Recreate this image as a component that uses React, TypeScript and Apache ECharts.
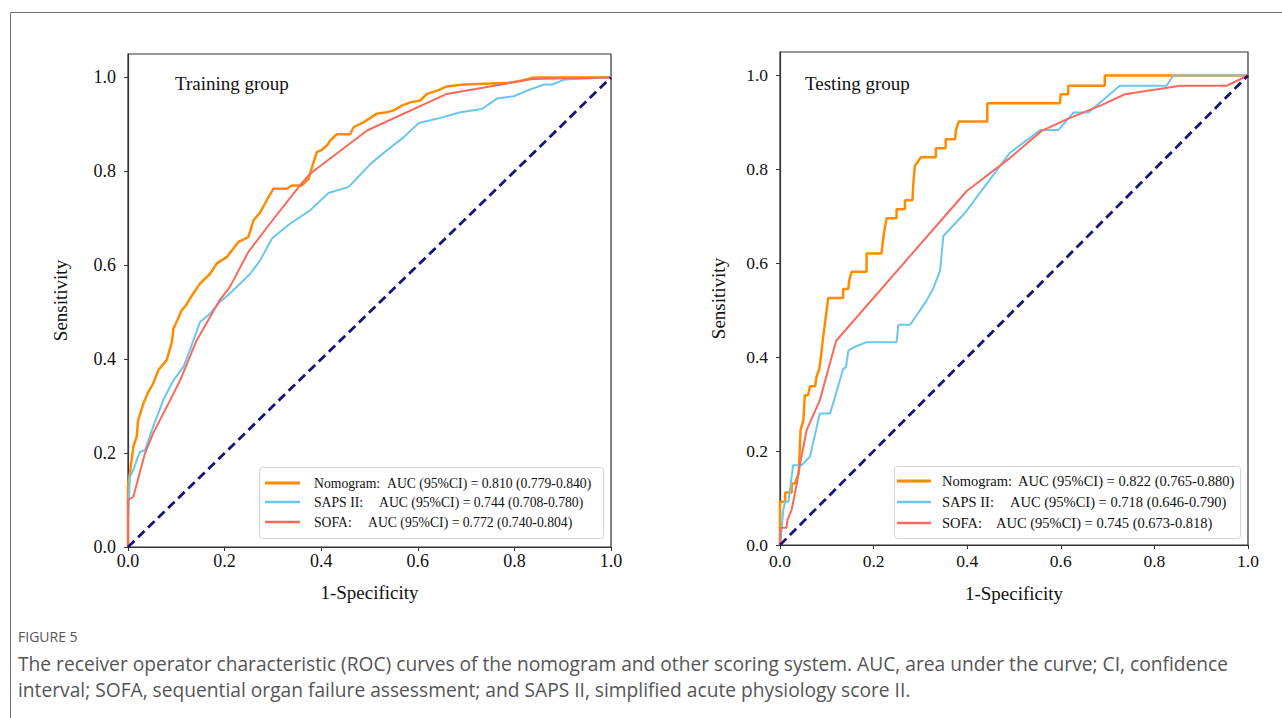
import React, { useEffect, useRef } from 'react';
import * as echarts from 'echarts';

// ---------- data ----------
const tickValues = [0, 0.2, 0.4, 0.6, 0.8, 1.0];
const seriesNames = ['Nomogram', 'SAPS II', 'SOFA'];
const legendPrefix = ['Nomogram:', 'SAPS II:', 'SOFA:'];
const trainAucText = [
  'AUC (95%CI) = 0.810 (0.779-0.840)',
  'AUC (95%CI) = 0.744 (0.708-0.780)',
  'AUC (95%CI) = 0.772 (0.740-0.804)',
];
const testAucText = [
  'AUC (95%CI) = 0.822 (0.765-0.880)',
  'AUC (95%CI) = 0.718 (0.646-0.790)',
  'AUC (95%CI) = 0.745 (0.673-0.818)',
];
const panelTitles = ['Training group', 'Testing group'];
const xAxisName = '1-Specificity';
const yAxisName = 'Sensitivity';
const figureLabel = 'FIGURE 5';
const captionLines = [
  'The receiver operator characteristic (ROC) curves of the nomogram and other scoring system. AUC, area under the curve; CI, confidence',
  'interval; SOFA, sequential organ failure assessment; and SAPS II, simplified acute physiology score II.',
];

const diagonal = [[0, 0], [1, 1]];

const trainNomogram = [
  [0, 0], [0, 0.13], [0.004, 0.157], [0.011, 0.213], [0.018, 0.235], [0.021, 0.27], [0.032, 0.306],
  [0.042, 0.33], [0.052, 0.348], [0.063, 0.377], [0.08, 0.398], [0.091, 0.437], [0.094, 0.465],
  [0.104, 0.487], [0.111, 0.504], [0.12, 0.515], [0.132, 0.535], [0.149, 0.561], [0.17, 0.582],
  [0.184, 0.604], [0.205, 0.618], [0.229, 0.65], [0.249, 0.66], [0.26, 0.696], [0.274, 0.713],
  [0.287, 0.738], [0.301, 0.763], [0.329, 0.763], [0.339, 0.77], [0.36, 0.77], [0.374, 0.784],
  [0.381, 0.809], [0.391, 0.841], [0.401, 0.846], [0.412, 0.855], [0.419, 0.866], [0.432, 0.879],
  [0.46, 0.879], [0.467, 0.894], [0.488, 0.905], [0.502, 0.914], [0.515, 0.923], [0.536, 0.926],
  [0.55, 0.93], [0.567, 0.94], [0.584, 0.947], [0.605, 0.951], [0.619, 0.965], [0.64, 0.972],
  [0.66, 0.981], [0.695, 0.985], [0.785, 0.988], [0.819, 0.994], [0.84, 1.0], [1, 1],
];
const trainSaps = [
  [0, 0], [0, 0.057], [0.004, 0.15], [0.011, 0.164], [0.018, 0.185], [0.025, 0.203], [0.035, 0.206],
  [0.052, 0.256], [0.073, 0.313], [0.094, 0.355], [0.115, 0.384], [0.128, 0.419], [0.149, 0.479],
  [0.17, 0.497], [0.19, 0.522], [0.211, 0.54], [0.253, 0.582], [0.274, 0.611], [0.298, 0.657],
  [0.336, 0.689], [0.377, 0.717], [0.415, 0.754], [0.457, 0.767], [0.502, 0.816], [0.536, 0.845],
  [0.571, 0.873], [0.602, 0.903], [0.647, 0.914], [0.688, 0.926], [0.733, 0.933], [0.764, 0.955],
  [0.799, 0.96], [0.826, 0.972], [0.861, 0.985], [0.878, 0.985], [0.902, 0.995], [0.923, 0.997], [1, 1],
];
const trainSofa = [
  [0, 0], [0, 0.1], [0.011, 0.107], [0.035, 0.199], [0.052, 0.242], [0.08, 0.298], [0.108, 0.355],
  [0.142, 0.44], [0.19, 0.526], [0.211, 0.554], [0.249, 0.628], [0.294, 0.689], [0.356, 0.77],
  [0.377, 0.795], [0.495, 0.887], [0.66, 0.965], [0.84, 0.997], [1, 1],
];

const testNomogram = [
  [0, 0], [0, 0.092], [0.011, 0.092], [0.011, 0.112], [0.025, 0.112], [0.025, 0.131], [0.032, 0.131],
  [0.04, 0.153], [0.044, 0.245], [0.05, 0.266], [0.053, 0.319], [0.06, 0.319], [0.064, 0.338],
  [0.075, 0.338], [0.078, 0.358], [0.084, 0.375], [0.089, 0.414], [0.093, 0.45], [0.096, 0.471],
  [0.103, 0.526], [0.135, 0.526], [0.135, 0.545], [0.146, 0.545], [0.148, 0.564], [0.153, 0.582],
  [0.185, 0.582], [0.185, 0.621], [0.217, 0.621], [0.219, 0.641], [0.224, 0.676], [0.228, 0.696],
  [0.249, 0.696], [0.249, 0.715], [0.267, 0.715], [0.267, 0.734], [0.283, 0.734], [0.285, 0.771],
  [0.288, 0.807], [0.301, 0.826], [0.333, 0.826], [0.333, 0.845], [0.354, 0.845], [0.354, 0.864],
  [0.374, 0.864], [0.376, 0.884], [0.382, 0.902], [0.443, 0.902], [0.443, 0.941], [0.598, 0.941],
  [0.6, 0.96], [0.616, 0.96], [0.616, 0.978], [0.694, 0.978], [0.694, 1], [1, 1],
];
const testSaps = [
  [0, 0], [0.004, 0.04], [0.007, 0.075], [0.011, 0.092], [0.018, 0.092], [0.021, 0.114], [0.028, 0.17],
  [0.046, 0.17], [0.064, 0.188], [0.085, 0.28], [0.107, 0.28], [0.135, 0.375], [0.141, 0.379],
  [0.146, 0.414], [0.157, 0.421], [0.185, 0.432], [0.249, 0.432], [0.253, 0.469], [0.278, 0.469],
  [0.313, 0.52], [0.328, 0.548], [0.342, 0.584], [0.349, 0.658], [0.395, 0.707], [0.491, 0.835],
  [0.556, 0.884], [0.595, 0.884], [0.627, 0.921], [0.659, 0.921], [0.726, 0.978], [0.826, 0.978],
  [0.84, 1], [1, 1],
];
const testSofa = [
  [0, 0], [0.001, 0.037], [0.014, 0.037], [0.016, 0.054], [0.025, 0.075], [0.036, 0.131], [0.043, 0.174],
  [0.057, 0.245], [0.085, 0.308], [0.12, 0.435], [0.399, 0.754], [0.491, 0.824], [0.559, 0.882],
  [0.616, 0.908], [0.687, 0.937], [0.737, 0.96], [0.855, 0.978], [0.954, 0.978], [1, 1],
];

// ---------- styling ----------
const colors = ['#FF8C00', '#6CC6EC', '#F86A5C'];
const widths = [2.5, 2, 2];
const navy = '#14147A';
const serif = "'Liberation Serif','Times New Roman',serif";
const sans = "'Open Sans','Noto Sans',sans-serif";

const panels = [
  { grid: { left: 128, top: 54, width: 483, height: 493 }, tickFont: 18, yNameGap: 58, xNameGap: 36, xLabelMargin: 5, yLabelMargin: 12,
    data: [trainNomogram, trainSaps, trainSofa], auc: trainAucText,
    title: { x: 175, y: 83 },
    legend: { x: 259, y: 467, w: 344, h: 71, lineX1: 265, lineX2: 300, textX: 314, aucX: [387, 379, 368], rows: [483, 502, 522], font: 13.7 } },
  { grid: { left: 780, top: 52, width: 468, height: 493 }, tickFont: 17.5, yNameGap: 52, xNameGap: 39, xLabelMargin: 7, yLabelMargin: 12,
    data: [testNomogram, testSaps, testSofa], auc: testAucText,
    title: { x: 805, y: 83 },
    legend: { x: 894, y: 466, w: 346, h: 72, lineX1: 897, lineX2: 931, textX: 942, aucX: [1018, 1010, 996], rows: [481, 502, 523], font: 14.5 } },
];

function buildOption() {
  const grids: any[] = [];
  const xAxes: any[] = [];
  const yAxes: any[] = [];
  const series: any[] = [];
  const graphics: any[] = [];

  panels.forEach((p, i) => {
    grids.push({ ...p.grid, show: true, borderColor: '#333', borderWidth: 1.2, backgroundColor: '#fff' });
    xAxes.push({
      type: 'value', gridIndex: i, min: 0, max: 1, interval: 0.2,
      name: xAxisName, nameLocation: 'middle', nameGap: p.xNameGap,
      nameTextStyle: { fontFamily: serif, fontSize: 19, color: '#111' },
      axisLine: { show: true, onZero: false, lineStyle: { color: '#333', width: 1.2 } },
      axisTick: { show: true, length: 4, lineStyle: { color: '#333' } },
      axisLabel: { fontFamily: serif, fontSize: p.tickFont, color: '#111', margin: p.xLabelMargin, formatter: (v: number) => v.toFixed(1) },
      splitLine: { show: false },
    });
    yAxes.push({
      type: 'value', gridIndex: i, min: 0, max: 1.05, interval: 0.2,
      name: yAxisName, nameLocation: 'middle', nameGap: p.yNameGap,
      nameTextStyle: { fontFamily: serif, fontSize: 19, color: '#111' },
      axisLine: { show: true, onZero: false, lineStyle: { color: '#333', width: 1.2 } },
      axisTick: { show: true, length: 4, customValues: tickValues, lineStyle: { color: '#333' } },
      axisLabel: { fontFamily: serif, fontSize: p.tickFont, color: '#111', margin: p.yLabelMargin, customValues: tickValues, formatter: (v: number) => v.toFixed(1) },
      splitLine: { show: false },
    });
    p.data.forEach((d, k) => {
      series.push({
        type: 'line', name: seriesNames[k], xAxisIndex: i, yAxisIndex: i, data: d,
        showSymbol: false, symbol: 'none', z: 2 + k,
        lineStyle: { color: colors[k], width: widths[k] },
      });
    });
    series.push({
      type: 'line', name: 'Reference', xAxisIndex: i, yAxisIndex: i, data: diagonal,
      showSymbol: false, symbol: 'none', z: 6,
      lineStyle: { color: navy, width: 2.8, type: [9, 5] },
    });

    // panel title
    graphics.push({
      type: 'text', x: p.title.x, y: p.title.y, z: 100,
      style: { text: panelTitles[i], font: `19px ${serif}`, fill: '#111', align: 'left', verticalAlign: 'middle', textAlign: 'left', textVerticalAlign: 'middle' },
    });

    // legend
    const L = p.legend;
    graphics.push({
      type: 'rect', z: 100,
      shape: { x: L.x + 0.5, y: L.y + 0.5, width: L.w, height: L.h, r: 3 },
      style: { fill: 'rgba(255,255,255,0.85)', stroke: '#d4d4d4', lineWidth: 1 },
    });
    seriesNames.forEach((_, k) => {
      const ry = L.rows[k];
      graphics.push({
        type: 'line', z: 101,
        shape: { x1: L.lineX1, y1: ry, x2: L.lineX2, y2: ry },
        style: { stroke: colors[k], lineWidth: widths[k] + 0.3 },
      });
      graphics.push({
        type: 'text', x: L.textX, y: ry, z: 101,
        style: { text: legendPrefix[k], font: `${L.font}px ${serif}`, fill: '#111', align: 'left', verticalAlign: 'middle', textAlign: 'left', textVerticalAlign: 'middle' },
      });
      graphics.push({
        type: 'text', x: L.aucX[k], y: ry, z: 101,
        style: { text: p.auc[k], font: `${L.font}px ${serif}`, fill: '#111', align: 'left', verticalAlign: 'middle', textAlign: 'left', textVerticalAlign: 'middle' },
      });
    });
  });

  // outer frame
  graphics.push({
    type: 'rect', z: 0,
    shape: { x: 10.5, y: 12.5, width: 1400, height: 900 },
    style: { fill: 'none', stroke: '#6e6e6e', lineWidth: 1 },
  });
  // caption
  graphics.push({
    type: 'text', x: 18, y: 636, z: 100,
    style: { text: figureLabel, font: `14px ${sans}`, fill: '#555555', align: 'left', verticalAlign: 'middle', textAlign: 'left', textVerticalAlign: 'middle' },
  });
  captionLines.forEach((line, k) => {
    graphics.push({
      type: 'text', x: 18, y: 663 + k * 26, z: 100,
      style: { text: line, font: `19.2px ${sans}`, fill: '#555555', align: 'left', verticalAlign: 'middle', textAlign: 'left', textVerticalAlign: 'middle' },
    });
  });

  return {
    animation: false,
    backgroundColor: '#ffffff',
    grid: grids,
    xAxis: xAxes,
    yAxis: yAxes,
    series,
    graphic: graphics,
  };
}

export default function App() {
  const ref = useRef<HTMLDivElement>(null);
  useEffect(() => {
    if (!ref.current) return;
    const chart = echarts.init(ref.current, null, { renderer: 'svg' });
    chart.setOption(buildOption() as any);
    return () => chart.dispose();
  }, []);
  return <div ref={ref} style={{ position: 'absolute', left: 0, top: 0, width: 1282, height: 718 }} />;
}
